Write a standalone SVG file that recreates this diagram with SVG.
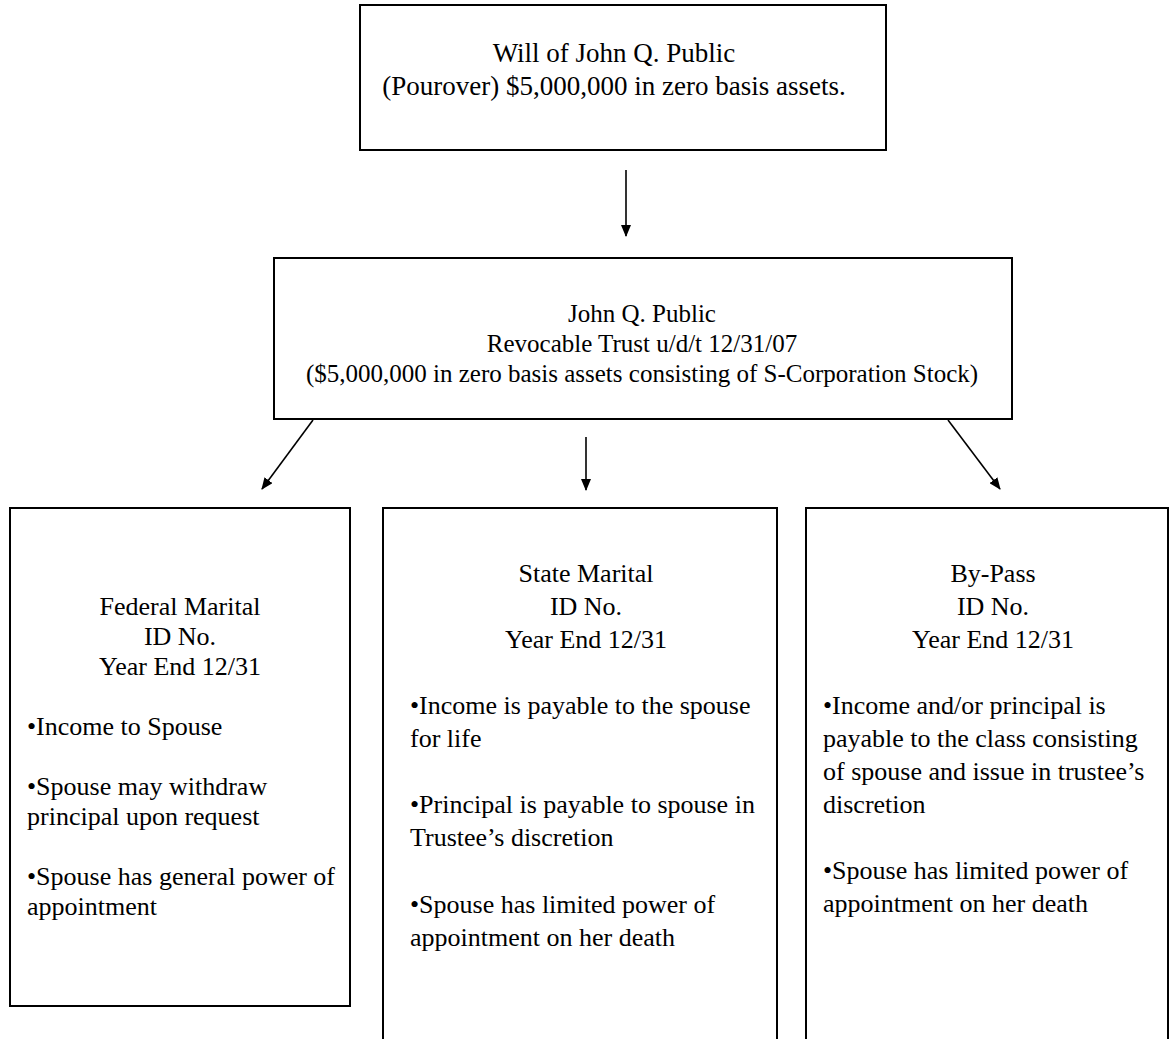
<svg xmlns="http://www.w3.org/2000/svg" width="1169" height="1039" viewBox="0 0 1169 1039">
<defs>
<style>
.box{fill:#fff;stroke:#000;stroke-width:2}
.t{font-family:"Liberation Serif","Times New Roman",serif;font-size:26px;fill:#000}
.c{text-anchor:middle}
.big{font-size:27px}
.mid{font-size:25px}
.con{stroke:#000;stroke-width:1.6;fill:none;marker-end:url(#ah)}
</style>
<marker id="ah" viewBox="0 0 12 10" refX="11" refY="5" markerWidth="12" markerHeight="10" markerUnits="userSpaceOnUse" orient="auto">
<path d="M0,0 L12,5 L0,10 z" fill="#000"/>
</marker>
</defs>
<rect width="1169" height="1039" fill="#fff"/>
<g id="connectors">
<line class="con" x1="626" y1="170" x2="626" y2="236"/>
<line class="con" x1="313" y1="420" x2="262" y2="489"/>
<line class="con" x1="586" y1="437" x2="586" y2="490"/>
<line class="con" x1="948" y1="420" x2="1000" y2="489"/>
</g>
<g id="will">
<rect class="box" x="360" y="5" width="526" height="145"/>
<text class="t c big" x="614" y="62">Will of John Q. Public</text>
<text class="t c big" x="614" y="95">(Pourover) $5,000,000 in zero basis assets.</text>
</g>
<g id="trust">
<rect class="box" x="274" y="258" width="738" height="161"/>
<text class="t c mid" x="642" y="322">John Q. Public</text>
<text class="t c mid" x="642" y="352">Revocable Trust u/d/t 12/31/07</text>
<text class="t c mid" x="642" y="382">($5,000,000 in zero basis assets consisting of S-Corporation Stock)</text>
</g>
<g id="federal">
<rect class="box" x="10" y="508" width="340" height="498"/>
<text class="t c" x="180" y="615">Federal Marital</text>
<text class="t c" x="180" y="645">ID No.</text>
<text class="t c" x="180" y="675">Year End 12/31</text>
<text class="t" x="27" y="735">•Income to Spouse</text>
<text class="t" x="27" y="795">•Spouse may withdraw</text>
<text class="t" x="27" y="825">principal upon request</text>
<text class="t" x="27" y="885">•Spouse has general power of</text>
<text class="t" x="27" y="915">appointment</text>
</g>
<g id="state">
<rect class="box" x="383" y="508" width="394" height="545"/>
<text class="t c" x="586" y="582">State Marital</text>
<text class="t c" x="586" y="615">ID No.</text>
<text class="t c" x="586" y="648">Year End 12/31</text>
<text class="t" x="410" y="714">•Income is payable to the spouse</text>
<text class="t" x="410" y="747">for life</text>
<text class="t" x="410" y="813">•Principal is payable to spouse in</text>
<text class="t" x="410" y="846">Trustee’s discretion</text>
<text class="t" x="410" y="913">•Spouse has limited power of</text>
<text class="t" x="410" y="946">appointment on her death</text>
</g>
<g id="bypass">
<rect class="box" x="806" y="508" width="362" height="545"/>
<text class="t c" x="993" y="582">By-Pass</text>
<text class="t c" x="993" y="615">ID No.</text>
<text class="t c" x="993" y="648">Year End 12/31</text>
<text class="t" x="823" y="714">•Income and/or principal is</text>
<text class="t" x="823" y="747">payable to the class consisting</text>
<text class="t" x="823" y="780">of spouse and issue in trustee’s</text>
<text class="t" x="823" y="813">discretion</text>
<text class="t" x="823" y="879">•Spouse has limited power of</text>
<text class="t" x="823" y="912">appointment on her death</text>
</g>
</svg>
